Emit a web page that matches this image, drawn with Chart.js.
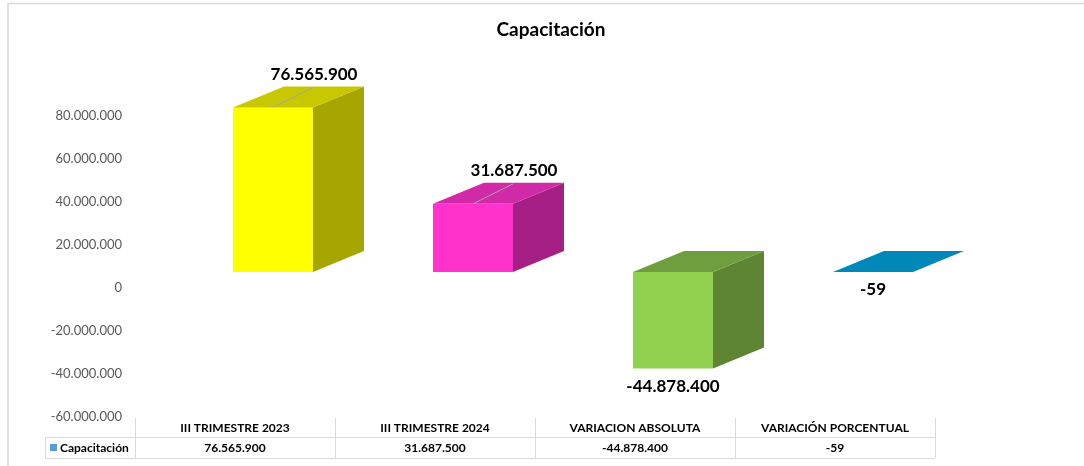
<!DOCTYPE html>
<html>
<head>
<meta charset="utf-8">
<script src="https://cdn.jsdelivr.net/npm/chart.js@4.4.1/dist/chart.umd.min.js"></script>
<style>
  html, body { margin: 0; padding: 0; background: #fff; }
  #wrap { width: 1084px; height: 466px; position: relative; }
</style>
</head>
<body>
<div id="wrap"><canvas id="chart" width="1084" height="466"></canvas></div>
<script>
// data
const chartTitle = "Capacitación";
const seriesName = "Capacitación";
const categories = ["III TRIMESTRE 2023", "III TRIMESTRE 2024", "VARIACION ABSOLUTA", "VARIACIÓN PORCENTUAL"];
const values = [76565900, 31687500, -44878400, -59];
const yMin = -60000000;
const yMax = 80000000;
const yStep = 20000000;

// colours of the 3d boxes (front / side / top)
const frontColors = ["#FFFF00", "#FF33CC", "#92D050", "#0A9BD0"];
const sideColors = ["#A6A600", "#A61F85", "#5E8532", "#006E96"];
const topColors = ["#C8C800", "#D12AA8", "#6F9E3E", "#0088B8"];

const FONT = "Lato, 'Open Sans', 'Liberation Sans', sans-serif";

function fmt(n) {
  const s = Math.abs(Math.round(n)).toString().replace(/\B(?=(\d{3})+(?!\d))/g, ".");
  return (n < 0 ? "-" : "") + s;
}

// excel style 3d boxes + labels + data table
const excel3d = {
  id: "excel3d",
  afterDraw(chart) {
    const ctx = chart.ctx;
    const y = chart.scales.y;
    const x = chart.scales.x;
    const meta = chart.getDatasetMeta(0);
    const area = chart.chartArea;
    const shiftX = 38, shiftY = -16;   // front face offset
    const depthX = 51, depthY = -21;   // box depth

    ctx.save();

    // chart frame (top + left edge)
    ctx.strokeStyle = "#D9D9D9";
    ctx.lineWidth = 1.5;
    ctx.beginPath();
    ctx.moveTo(8, 466);
    ctx.lineTo(8, 3.5);
    ctx.lineTo(1084, 3.5);
    ctx.stroke();

    // title
    ctx.fillStyle = "#000";
    ctx.font = "bold 19px " + FONT;
    ctx.textAlign = "center";
    ctx.textBaseline = "middle";
    ctx.fillText(chartTitle, 551, 30);

    meta.data.forEach(function (bar, i) {
      const p = bar.getProps(["x", "y", "base", "width"], true);
      const left = p.x - p.width / 2 + shiftX;
      const right = left + p.width;
      const top = Math.min(p.y, p.base) + shiftY;
      const bottom = Math.max(p.y, p.base) + shiftY;

      // front
      ctx.fillStyle = frontColors[i];
      ctx.fillRect(left, top, right - left, bottom - top);
      // side
      ctx.fillStyle = sideColors[i];
      ctx.beginPath();
      ctx.moveTo(right, top);
      ctx.lineTo(right + depthX, top + depthY);
      ctx.lineTo(right + depthX, bottom + depthY);
      ctx.lineTo(right, bottom);
      ctx.closePath();
      ctx.fill();
      // top
      ctx.fillStyle = topColors[i];
      ctx.beginPath();
      ctx.moveTo(left, top);
      ctx.lineTo(left + depthX, top + depthY);
      ctx.lineTo(right + depthX, top + depthY);
      ctx.lineTo(right, top);
      ctx.closePath();
      ctx.fill();

      // value label
      const cx = (left + right) / 2;
      ctx.font = "bold 17px " + FONT;
      ctx.fillStyle = "#000";
      ctx.textAlign = "center";
      ctx.textBaseline = "middle";
      if (values[i] >= 0) {
        ctx.strokeStyle = "#A6A6A6";
        ctx.lineWidth = 1;
        ctx.beginPath();
        ctx.moveTo(cx, top);
        ctx.lineTo(cx + 40, top - 20);
        ctx.stroke();
        ctx.fillText(fmt(values[i]), cx + 41, top - 33);
      } else {
        ctx.fillText(fmt(values[i]), cx, bottom + 18);
      }
    });

    // data table
    const rowTop = area.bottom + 1;
    const rowMid = rowTop + 19;
    const rowBot = rowMid + 21;
    const colW = (area.right - area.left) / categories.length;
    ctx.strokeStyle = "#D9D9D9";
    ctx.lineWidth = 1;
    ctx.beginPath();
    for (let i = 0; i <= categories.length; i++) {
      const lx = Math.round(area.left + colW * i) + 0.5;
      ctx.moveTo(lx, rowTop);
      ctx.lineTo(lx, rowBot);
    }
    ctx.moveTo(45.5, rowMid);
    ctx.lineTo(45.5, rowBot);
    ctx.moveTo(45, rowMid + 0.5);
    ctx.lineTo(area.right, rowMid + 0.5);
    ctx.moveTo(45, rowBot + 0.5);
    ctx.lineTo(area.right, rowBot + 0.5);
    ctx.stroke();

    ctx.font = "bold 12px " + FONT;
    ctx.fillStyle = "#000";
    ctx.textAlign = "center";
    ctx.textBaseline = "middle";
    categories.forEach(function (c, i) {
      const mx = x.getPixelForValue(i);
      ctx.fillText(c, mx, (rowTop + rowMid) / 2 + 1);
      ctx.fillText(fmt(values[i]), mx, (rowMid + rowBot) / 2 + 1);
    });

    // legend key in table
    ctx.fillStyle = "#5B9BD5";
    ctx.fillRect(50, rowMid + 7, 7, 7);
    ctx.fillStyle = "#000";
    ctx.textAlign = "left";
    ctx.fillText(seriesName, 60, (rowMid + rowBot) / 2 + 1);

    ctx.restore();
  }
};

new Chart(document.getElementById("chart"), {
  type: "bar",
  data: {
    labels: categories,
    datasets: [{
      label: seriesName,
      data: values,
      backgroundColor: "rgba(0,0,0,0)",
      borderWidth: 0,
      barPercentage: 0.4,
      categoryPercentage: 1
    }]
  },
  options: {
    responsive: false,
    animation: false,
    layout: { padding: { left: 0, top: 116, right: 149, bottom: 49 } },
    plugins: {
      legend: { display: false },
      title: { display: false },
      tooltip: { enabled: false }
    },
    scales: {
      x: { display: false, offset: true },
      y: {
        min: yMin,
        max: yMax,
        afterFit: function (scale) { scale.width = 135; },
        grid: { display: false, drawTicks: false },
        border: { display: false },
        ticks: {
          stepSize: yStep,
          padding: 13,
          color: "#595959",
          font: { family: FONT, size: 13 },
          callback: function (v) { return fmt(v); }
        }
      }
    }
  },
  plugins: [excel3d]
});
</script>
</body>
</html>
